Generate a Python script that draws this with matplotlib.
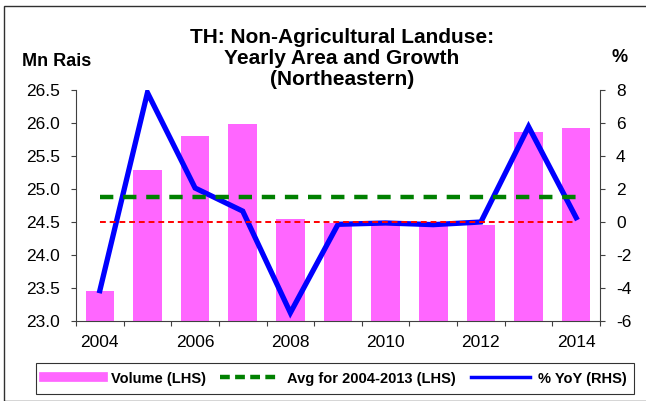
import matplotlib
matplotlib.use('Agg')
import matplotlib.pyplot as plt
import numpy as np
from matplotlib.lines import Line2D
from matplotlib.patches import Rectangle

years = [2004, 2005, 2006, 2007, 2008, 2009, 2010, 2011, 2012, 2013, 2014]
volume = [23.45, 25.29, 25.81, 25.98, 24.54, 24.49, 24.49, 24.47, 24.46, 25.87, 25.93]
yoy = [-4.16, 7.84, 2.06, 0.66, -5.5, -0.14, -0.06, -0.16, 0.0, 5.78, 0.26]
avg_years = (2004, 2013)
left_ticks = [23.0, 23.5, 24.0, 24.5, 25.0, 25.5, 26.0, 26.5]
right_ticks = [-6, -4, -2, 0, 2, 4, 6, 8]

plt.rcParams['font.family'] = ['Liberation Sans', 'DejaVu Sans']

fig = plt.figure(figsize=(6.46, 4.01), dpi=100)
ax = fig.add_axes([76 / 646, 1 - 321 / 401, (600 - 76) / 646, (321 - 90) / 401])
ax2 = ax.twinx()

x = np.arange(len(years))
ax.bar(x, volume, width=0.6, bottom=0, color='#FF66FF', zorder=2)
ax.set_ylim(23.0, 26.5)
ax.set_xlim(-0.5, len(years) - 0.5)

mask = [(avg_years[0] <= y <= avg_years[1]) for y in years]
avg = np.mean(np.array(volume)[mask])

ax2.set_ylim(-6, 8)
ax2.plot(x, yoy, color='#0000FF', lw=3.8, zorder=3, solid_joinstyle='miter')
ax2.plot([x[0], x[-1]], [avg, avg], color='#008000', lw=3.2, ls=(0, (3.0, 2.2)),
         transform=ax.transData, zorder=4)
ax2.plot([x[0], x[-1]], [0, 0], color='#FF0000', lw=1.4, ls=(0, (3, 2)), zorder=5)

ax.set_yticks(left_ticks)
ax.set_yticklabels(['%.1f' % t for t in left_ticks])
ax2.set_yticks(right_ticks)
ax2.set_yticklabels([str(t) for t in right_ticks])

ax.set_xticks(np.arange(-0.5, len(years), 1.0))
ax.set_xticklabels([])
ax.set_xticks(x[::2], minor=True)
ax.set_xticklabels([str(y) for y in years[::2]], minor=True)
ax.tick_params(axis='x', which='minor', length=0, labelsize=12.5, pad=10)
ax.tick_params(axis='x', which='major', length=3.6, direction='out', color='#404040')
ax.tick_params(axis='y', length=3.6, direction='out', labelsize=12.5, color='#404040', pad=8)
ax2.tick_params(axis='y', length=3.6, direction='out', labelsize=12.5, color='#404040', pad=8)

for a in (ax, ax2):
    a.spines['top'].set_visible(False)
    for s in ('left', 'right', 'bottom'):
        a.spines[s].set_color('#404040')
ax.spines['right'].set_visible(False)
ax2.spines['left'].set_visible(False)
ax2.spines['bottom'].set_visible(False)

fig.text(342 / 646, 1 - 58.5 / 401,
         'TH: Non-Agricultural Landuse:\nYearly Area and Growth\n(Northeastern)',
         ha='center', va='center', fontsize=15, fontweight='bold', linespacing=1.14)
fig.text(22 / 646, 1 - 61 / 401, 'Mn Rais', ha='left', va='center', fontsize=13, fontweight='bold')
fig.text(620 / 646, 1 - 57 / 401, '%', ha='center', va='center', fontsize=13, fontweight='bold')

handles = [Line2D([], [], color='#FF66FF', lw=7),
           Line2D([], [], color='#008000', lw=3.2, ls=(0, (2.2, 1.2))),
           Line2D([], [], color='#0000FF', lw=2.5)]
labels = ['Volume (LHS)', 'Avg for 2004-2013 (LHS)', '% YoY (RHS)']
leg = fig.legend(handles, labels, loc='center', bbox_to_anchor=(335 / 646, 1 - 378.5 / 401),
                 ncol=3, frameon=True, fancybox=False, edgecolor='black',
                 prop={'weight': 'bold', 'size': 10.5}, handlelength=4.1,
                 columnspacing=1.0, handletextpad=0.5, borderpad=0.55)
leg.get_frame().set_linewidth(0.8)

fig.patches.append(Rectangle((4 / 646, 0), 1.0, 1 - 6 / 401, transform=fig.transFigure,
                             fill=False, edgecolor='#303030', lw=1.0))

fig.savefig('out.png', dpi=100)
